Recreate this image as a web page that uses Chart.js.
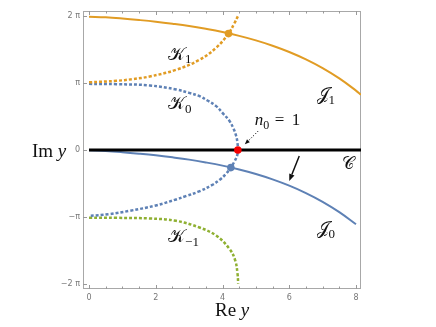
<!DOCTYPE html>
<html>
<head>
<meta charset="utf-8">
<script src="https://cdn.jsdelivr.net/npm/chart.js@4"></script>
<style>
  html, body { margin: 0; padding: 0; background: #fff; }
  #wrap { width: 436px; height: 327px; position: relative; }
</style>
</head>
<body>
<div id="wrap"><canvas id="chart"></canvas></div>
<script>
// Data: Re y on x, Im y in units of pi on y
const j1X = [0, 0.5, 1, 1.5, 2, 2.5, 3, 3.5, 4, 4.5, 5, 5.5, 6, 6.5, 7, 7.5, 8, 8.15];
const j1Y = [1.995, 1.985, 1.967, 1.945, 1.92, 1.89, 1.856, 1.814, 1.766, 1.708, 1.641, 1.561, 1.467, 1.356, 1.225, 1.071, 0.889, 0.827];

const j0X = [0, 0.5, 1, 1.5, 2, 2.5, 3, 3.5, 4, 4.5, 5, 5.5, 6, 6.5, 7, 7.5, 8];
const j0Y = [-0.004, -0.015, -0.033, -0.055, -0.08, -0.11, -0.144, -0.186, -0.234, -0.292, -0.359, -0.439, -0.533, -0.644, -0.775, -0.929, -1.111];

// K0 runs from (0, pi) through the real axis and back to (0, -pi)
const k0X = [0, 0.82, 1.82, 2.61, 3.0, 3.31, 3.55, 3.81, 4.0, 4.21, 4.33, 4.41, 4.45, 4.46, 4.44, 4.36, 4.25, 4.1, 3.93, 3.7, 3.3, 2.9, 2.61, 2.0, 1.22, 0.6, 0];
const k0Y = [0.99, 0.985, 0.966, 0.906, 0.855, 0.806, 0.74, 0.657, 0.555, 0.433, 0.32, 0.209, 0.1, 0, -0.08, -0.17, -0.263, -0.36, -0.44, -0.52, -0.62, -0.69, -0.74, -0.83, -0.91, -0.96, -0.988];

const k1X = [0, 0.82, 1.3, 1.82, 2.61, 3.31, 3.81, 4.18, 4.36, 4.46];
const k1Y = [1.012, 1.035, 1.06, 1.1, 1.2, 1.35, 1.53, 1.742, 1.9, 2.0];

const km1X = [0, 0.82, 1.82, 2.61, 3.31, 3.81, 4.21, 4.38, 4.45, 4.47];
const km1Y = [-1.012, -1.015, -1.025, -1.06, -1.16, -1.28, -1.48, -1.65, -1.85, -2.0];

const cX = [0, 8.15];
const cY = [0, 0];

// saddle / crossing points
const dotOrange = [4.18, 1.742];
const dotBlue = [4.25, -0.263];
const dotRed = [4.46, 0];

const yTickText = { '2': '2 π', '1': 'π', '0': '0', '-1': '−π', '-2': '−2 π' };

const ORANGE = '#e19c24';
const BLUE = '#5e81b5';
const GREEN = '#8fb032';

const pts = (xs, ys) => xs.map((x, i) => ({ x: x, y: ys[i] }));

const curve = (xs, ys, color, width, dash) => ({
    data: pts(xs, ys),
    showLine: true,
    borderColor: color,
    borderWidth: width,
    borderDash: dash || [],
    pointRadius: 0,
    tension: 0.4,
    fill: false
});

const dot = (p, color) => ({
    data: [{ x: p[0], y: p[1] }],
    showLine: false,
    pointRadius: 3.8,
    pointBackgroundColor: color,
    pointBorderWidth: 0
});

// frame with inward ticks like the original
const framePlugin = {
    id: 'frame',
    beforeDatasetsDraw(chart) {
        const { ctx, chartArea: a, scales } = chart;
        ctx.save();
        ctx.strokeStyle = '#a8a8a8';
        ctx.lineWidth = 1;
        ctx.strokeRect(a.left + 0.5, a.top + 0.5, a.right - a.left - 1, a.bottom - a.top - 1);
        ctx.strokeStyle = '#999';
        ctx.beginPath();
        for (let v = 0; v <= 8; v += 0.5) {
            const px = Math.round(scales.x.getPixelForValue(v)) + 0.5;
            const len = v % 2 === 0 ? 4 : 2.5;
            ctx.moveTo(px, a.bottom);
            ctx.lineTo(px, a.bottom - len);
            ctx.moveTo(px, a.top);
            ctx.lineTo(px, a.top + len);
        }
        for (let v = -2; v <= 2; v++) {
            const py = Math.round(scales.y.getPixelForValue(v)) + 0.5;
            ctx.moveTo(a.left, py);
            ctx.lineTo(a.left + 4, py);
        }
        ctx.stroke();
        ctx.restore();
    }
};

const serif = '"Liberation Serif", "DejaVu Serif", serif';

function mathLabel(ctx, px, py, main, sub, size) {
    ctx.font = size + 'px ' + serif;
    ctx.fillText(main, px, py);
    const w = ctx.measureText(main).width;
    if (sub) {
        ctx.font = Math.round(size * 0.7) + 'px ' + serif;
        ctx.fillText(sub, px + w, py + size * 0.22);
    }
}

function arrow(ctx, x1, y1, x2, y2, head, width) {
    const ang = Math.atan2(y2 - y1, x2 - x1);
    const bx = x2 - head * Math.cos(ang);
    const by = y2 - head * Math.sin(ang);
    ctx.beginPath();
    ctx.moveTo(x1, y1);
    ctx.lineTo(bx, by);
    ctx.lineWidth = width;
    ctx.stroke();
    ctx.setLineDash([]);
    ctx.beginPath();
    ctx.moveTo(x2, y2);
    ctx.lineTo(bx + head * 0.4 * Math.sin(ang), by - head * 0.4 * Math.cos(ang));
    ctx.lineTo(bx - head * 0.4 * Math.sin(ang), by + head * 0.4 * Math.cos(ang));
    ctx.closePath();
    ctx.fill();
}

const labelPlugin = {
    id: 'labels',
    afterDatasetsDraw(chart) {
        const { ctx, scales } = chart;
        const X = v => scales.x.getPixelForValue(v);
        const Y = v => scales.y.getPixelForValue(v);
        ctx.save();
        ctx.fillStyle = '#111';
        ctx.strokeStyle = '#111';
        ctx.textBaseline = 'alphabetic';
        ctx.textAlign = 'left';

        mathLabel(ctx, X(2.37), Y(1.354), '𝒦', '1', 18);
        mathLabel(ctx, X(2.37), Y(0.607), '𝒦', '0', 18);
        mathLabel(ctx, X(2.37), Y(-1.382), '𝒦', '−1', 18);
        mathLabel(ctx, X(6.82), Y(0.746), '𝒥', '1', 18);
        mathLabel(ctx, X(6.82), Y(-1.258), '𝒥', '0', 18);
        mathLabel(ctx, X(7.57), Y(-0.288), '𝒞', '', 17);

        // n0 = 1
        const nx = X(4.97), ny = Y(0.369);
        ctx.font = 'italic 17px ' + serif;
        ctx.fillText('n', nx, ny);
        const nw = ctx.measureText('n').width;
        ctx.font = '12px ' + serif;
        ctx.fillText('0', nx + nw, ny + 3.5);
        ctx.font = '17px ' + serif;
        ctx.fillText('=', nx + 20, ny);
        ctx.fillText('1', nx + 37, ny);

        // axis titles
        ctx.font = '19px ' + serif;
        ctx.fillText('Im', 32, 157);
        let w = ctx.measureText('Im ').width;
        ctx.font = 'italic 19px ' + serif;
        ctx.fillText('y', 32 + w, 157);

        ctx.font = '19px ' + serif;
        ctx.fillText('Re', 215, 316);
        w = ctx.measureText('Re ').width;
        ctx.font = 'italic 19px ' + serif;
        ctx.fillText('y', 215 + w, 316);

        // arrows
        ctx.setLineDash([1.2, 1.8]);
        arrow(ctx, X(5.07), Y(0.284), X(4.67), Y(0.085), 5, 1);
        ctx.setLineDash([]);
        arrow(ctx, X(6.30), Y(-0.09), X(6.0), Y(-0.463), 7, 1.5);
        ctx.restore();
    }
};

new Chart(document.getElementById('chart'), {
    type: 'scatter',
    data: {
        datasets: [
            dot(dotRed, '#f40000'),
            dot(dotBlue, BLUE),
            dot(dotOrange, ORANGE),
            curve(cX, cY, '#000', 3),
            curve(k1X, k1Y, ORANGE, 2.5, [3, 2]),
            curve(k0X, k0Y, BLUE, 2.5, [3, 2]),
            curve(km1X, km1Y, GREEN, 2.5, [3, 2]),
            curve(j0X, j0Y, BLUE, 2),
            curve(j1X, j1Y, ORANGE, 2)
        ]
    },
    options: {
        responsive: true,
        maintainAspectRatio: false,
        animation: false,
        devicePixelRatio: 1,
        layout: { padding: { left: 0, right: 75, top: 11, bottom: 0 } },
        plugins: { legend: { display: false }, tooltip: { enabled: false } },
        scales: {
            x: {
                type: 'linear',
                min: -0.18,
                max: 8.15,
                afterFit: s => { s.height = 38; },
                grid: { display: false, drawTicks: false },
                border: { display: false },
                ticks: {
                    stepSize: 0.5,
                    includeBounds: false,
                    autoSkip: false,
                    maxRotation: 0,
                    padding: 4,
                    color: '#777',
                    font: { size: 8, family: 'DejaVu Sans' },
                    callback: v => (v % 2 === 0 ? String(v) : '')
                }
            },
            y: {
                type: 'linear',
                min: -2.08,
                max: 2.08,
                afterFit: s => { s.width = 83; },
                grid: { display: false, drawTicks: false },
                border: { display: false },
                ticks: {
                    stepSize: 1,
                    includeBounds: false,
                    padding: 3,
                    color: '#777',
                    font: { size: 8, family: 'DejaVu Sans' },
                    callback: v => yTickText[String(v)] || ''
                }
            }
        }
    },
    plugins: [framePlugin, labelPlugin]
});
</script>
</body>
</html>
